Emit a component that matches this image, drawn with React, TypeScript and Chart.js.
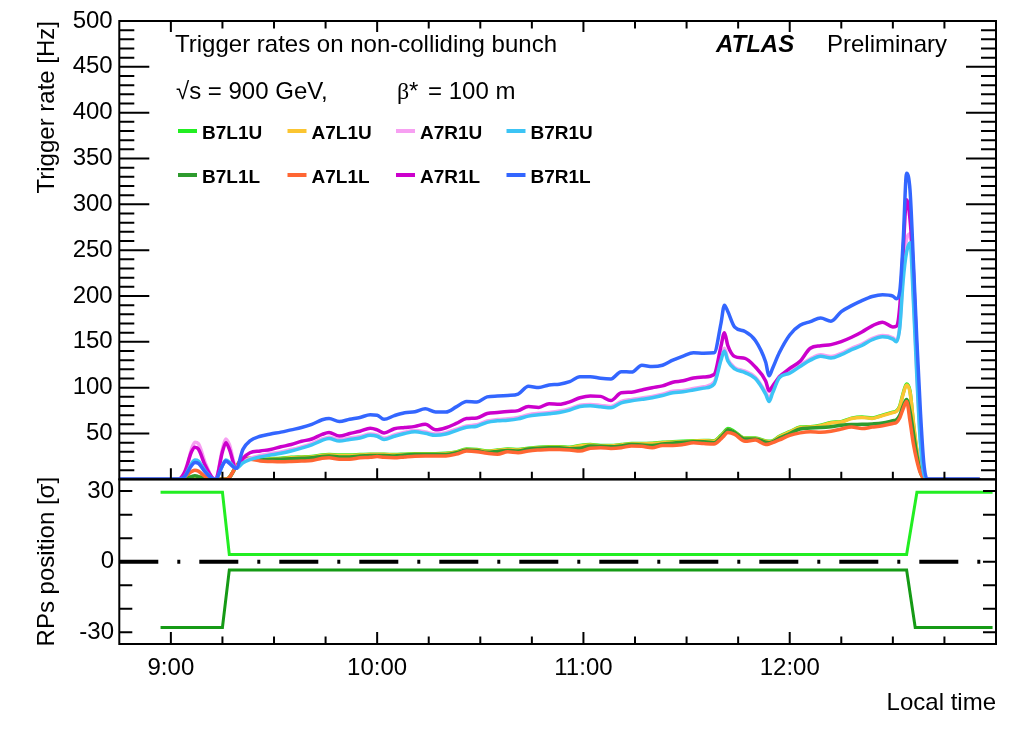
import React, { useEffect, useRef } from 'react';
import { Chart, registerables } from 'chart.js';

Chart.register(...registerables);

// Time in minutes after 09:00 local time
const TIME_MIN = [
  -15, -6, -2, 0, 2, 4, 6, 7, 8, 10,
  12, 13, 15, 16, 17, 19, 21, 23, 26, 29,
  32, 35, 38, 41, 44, 46, 49, 52, 55, 58,
  60, 62, 65, 68, 71, 74, 77, 80, 83, 86,
  89, 92, 95, 98, 101, 104, 107, 110, 113, 116,
  119, 122, 125, 128, 131, 134, 137, 140, 143, 146,
  149, 152, 155, 158, 160, 161, 162, 164, 167, 170,
  173, 174, 175, 177, 180, 183, 186, 189, 192, 195,
  198, 201, 204, 207, 210, 211, 212, 213, 214, 215,
  216, 217, 218, 219, 220, 225, 235,
];

// Trigger rates [Hz]
const RATE_B7L1U = [
  0, 0, 0, 0, 0, 0.5, 1.5, 2.5, 2, 0.5,
  0, 0, 0, 0, 2, 14, 22, 23, 22, 22.5,
  23, 24, 24.5, 25, 26.5, 27, 26.5, 26.5, 27, 27.5,
  27.5, 27.5, 27, 27.5, 28, 28, 28, 28.5, 30, 33,
  32.5, 31, 32, 33, 32.5, 34, 35, 35.5, 35.5, 35,
  37, 38, 37, 37, 38, 39, 39, 39.5, 40.5, 41,
  41.5, 42, 42.5, 42, 48, 52, 55.5, 52, 45, 45,
  42, 41.5, 42, 47, 52, 57, 57.5, 59, 62, 63,
  66.8, 68.1, 67, 70, 73.3, 74.5, 80, 94, 104, 96,
  60, 30, 9, 1, 0, 0, 0,
];
const RATE_A7L1U = [
  0, 0, 0, 0, 0, 1, 2.5, 3.5, 3, 1,
  0, 0, 0, 0, 2.5, 14, 22.5, 23, 22, 22,
  22.5, 23.5, 24, 24.5, 26, 26.5, 26, 26, 26.5, 27,
  27, 27, 26.5, 27, 27.5, 27.5, 27.5, 28, 29.5, 32.5,
  32, 30.5, 31.5, 32.5, 32, 33.5, 34.5, 35, 35, 34.5,
  36.5, 37.5, 36.5, 36.5, 37.5, 38.5, 38.5, 39, 40, 40.5,
  41, 41.5, 42, 41.5, 47, 51, 54.5, 51, 44.5, 44.5,
  41.5, 41, 41.5, 46.5, 51.5, 56.5, 57, 58.5, 61.5, 62.5,
  66.3, 67.6, 66.5, 69.5, 72.8, 74, 79, 93, 103, 95,
  62, 32, 10, 1, 0, 0, 0,
];
const RATE_A7R1U = [
  0, 0, 0, 0, 0, 4, 33, 40.5, 39, 18,
  2, 0, 33, 44, 38, 13, 19, 23, 26, 28,
  30, 32.5, 35.5, 39, 44, 46, 43.2, 45, 46.7, 49.5,
  48.5, 45, 48.5, 51.5, 53.2, 51.7, 49.5, 51, 54.7, 58.3,
  59.5, 63.7, 65.3, 66, 67.5, 70.5, 72, 73, 74.5, 77,
  81, 81.7, 80.7, 79.5, 85, 87.2, 88.8, 90.5, 93, 96,
  97, 99, 101, 106, 132, 143, 131, 122, 118, 111.5,
  95, 88, 96, 112.5, 117.3, 124.7, 131.5, 135.8, 134, 137.5,
  143, 147.5, 153.8, 157, 154.5, 151.5, 167, 225, 262, 268,
  200, 115, 42, 7, 0, 0, 0,
];
const RATE_B7R1U = [
  0, 0, 0, 0, 0, 3, 17, 21, 20, 9,
  1, 0, 15, 21, 19, 12, 18, 21.5, 24.5, 26.5,
  28.5, 31, 34, 37.5, 42.5, 44.5, 41.7, 43.5, 45.2, 48,
  47, 43.5, 47, 50, 51.8, 50.2, 48, 49.5, 53.2, 56.8,
  58, 62.2, 63.8, 64.5, 66, 69, 70.5, 71.6, 73, 75.5,
  79.5, 80.2, 79.2, 78, 83.5, 85.7, 87.3, 89, 91.5, 94.5,
  95.5, 97.5, 99.5, 104, 130, 140, 129, 120.5, 116.5, 110,
  93, 85, 94, 111, 115.8, 123.2, 130, 134.3, 132.4, 136,
  141.5, 146, 152.3, 155.5, 153, 150, 165, 217, 248, 258,
  192, 110, 40, 6, 0, 0, 0,
];
const RATE_B7L1L = [
  0, 0, 0, 0, 0, 1, 3, 4, 3, 1,
  0, 0, 0, 0, 2, 14, 22, 22.5, 21.5, 21.5,
  22, 22.5, 23, 23.5, 25, 25.5, 24.5, 24.5, 25.5, 26,
  26, 26, 25.5, 26.5, 27, 27, 27, 27, 29, 32,
  31.5, 29.5, 30.5, 31.5, 31, 33, 34, 34.5, 34.5, 33.5,
  34, 36.5, 36, 35.5, 36.5, 38, 37.5, 37, 38.5, 39.5,
  40.5, 41, 41, 40, 46, 50, 54, 51, 44, 44,
  40.5, 40, 41, 45, 50, 55, 56, 56.5, 57.5, 59,
  59.8, 60, 60.5, 61.5, 64, 65, 70, 80, 87, 74,
  50, 26, 8, 1, 0, 0, 0,
];
const RATE_A7L1L = [
  0, 0, 0, 0, 0, 3, 8.5, 10, 9, 3,
  0, 0, 0, 0, 2, 14, 22, 22, 20, 19.5,
  19.2, 19.5, 20, 20.5, 23, 23.5, 22, 22, 23.5, 24,
  25, 24, 23.5, 24.5, 25.3, 25.4, 25.4, 25.4, 27.5, 30.8,
  30.2, 28.5, 27.5, 30, 29, 31, 32, 32.6, 32.6, 32,
  30.8, 34, 34.5, 33.7, 34.5, 36.5, 36, 34.5, 37, 37,
  38, 39.8, 39, 38.5, 44, 48, 51, 49, 41.6, 42.8,
  38, 38.5, 40, 43, 48, 50.7, 52, 51.3, 52.5, 55,
  57, 55.5, 57, 58.5, 61, 62, 67, 77, 85, 63,
  38, 20, 7, 1, 0, 0, 0,
];
const RATE_A7R1L = [
  0, 0, 0, 0, 0, 8, 30, 35, 33, 15,
  2, 0, 30, 40, 33, 12, 23, 29, 31, 32.6,
  35.5, 38, 41.5, 44, 49, 51, 47.3, 50, 52.5, 55.8,
  54, 50.5, 55.2, 56.5, 57.8, 60.2, 54, 56.3, 61, 66.3,
  67, 71.8, 73, 74, 75, 79.5, 78.5, 82.5, 81.8, 84.5,
  89, 91, 90.5, 86, 94.5, 95.1, 97.5, 100, 102, 106,
  107.5, 110.6, 111.7, 114.4, 145, 160, 146, 134, 132, 122.5,
  107.4, 96.5, 101.6, 111.7, 121, 128.8, 143, 145.7, 147, 150.3,
  155, 160.7, 167.5, 171.5, 166.3, 167, 188, 250, 305, 283,
  225, 135, 55, 6, 0, 0, 0,
];
const RATE_B7R1L = [
  0, 0, 0, 0, 0, 3, 15, 18.5, 17.5, 8,
  1, 0, 15, 20, 17.5, 12, 33, 42, 47, 49.5,
  51.5, 54, 56.5, 60, 65, 66.5, 63, 65.5, 67.5, 70.5,
  70, 65.5, 69.5, 72.6, 73.8, 77, 73.5, 73.5, 79, 85,
  84.5, 90, 90.8, 91.5, 93, 101.5, 100.2, 103, 103.8, 106.5,
  112, 112, 110.3, 109.6, 117.5, 117, 124.5, 123, 124.5, 130,
  134.5, 138, 137.5, 138, 170, 190, 183, 166, 161.3, 151.5,
  128, 113, 121, 138.3, 157.5, 168, 172, 176, 172.5, 183,
  189.5, 195, 199.5, 201.5, 200, 197, 205, 260, 334, 315,
  235, 150, 75, 18, 0, 0, 0,
];

const SERIES_LABELS = ['B7L1U', 'A7L1U', 'A7R1U', 'B7R1U', 'B7L1L', 'A7L1L', 'A7R1L', 'B7R1L'];
const SERIES_VALUES = [RATE_B7L1U, RATE_A7L1U, RATE_A7R1U, RATE_B7R1U, RATE_B7L1L, RATE_A7L1L, RATE_A7R1L, RATE_B7R1L];
const SERIES_COLORS = ['#22ee22', '#fbc531', '#f7a0f2', '#3cc4f5', '#2e9b2e', '#ff6633', '#cc00cc', '#3366ff'];
// lower value = drawn on top
const SERIES_ORDER = [7, 6, 3, 1, 5, 4, 2, 0];

// Roman Pot positions [sigma]
const POS_UPPER_TIME = [-3, 15, 17, 214, 217, 239];
const POS_UPPER = [29.5, 29.5, 3, 3, 29.5, 29.5];
const POS_LOWER_TIME = [-3, 15, 17, 214, 216.5, 239];
const POS_LOWER = [-28, -28, -3.5, -3.5, -28, -28];
const BEAM_AXIS_TIME = [-15, 240];
const BEAM_AXIS = [0, 0];

// Axes
const TIME_AXIS_MIN = -15;
const TIME_AXIS_MAX = 240;
const TIME_MINOR_STEP = 15;
const X_TICK_VALUES = [0, 60, 120, 180];
const X_TICK_LABELS = ['9:00', '10:00', '11:00', '12:00'];
const RATE_MIN = 0;
const RATE_MAX = 500;
const RATE_TICK_VALUES = [50, 100, 150, 200, 250, 300, 350, 400, 450, 500];
const RATE_MAJOR_STEP = 50;
const RATE_MINOR_STEP = 10;
const POS_MIN = -35;
const POS_MAX = 35;
const POS_TICK_VALUES = [-30, 0, 30];
const POS_MINOR_STEP = 10;

const FONT_FAMILY = "'Liberation Sans', Arial, Helvetica, sans-serif";
const SERIF_FAMILY = "'Liberation Serif', 'DejaVu Serif', serif";

function toPoints(times: number[], values: number[]) {
  return times.map((t, i) => ({ x: t, y: values[i] }));
}

const decorPlugin = {
  id: 'atlasDecor',
  afterDraw(chart: any) {
    const ctx = chart.ctx;
    const xs = chart.scales.x;
    const yr = chart.scales.yRate;
    const yp = chart.scales.yPos;
    const left = xs.left;
    const right = xs.right;

    ctx.save();
    ctx.strokeStyle = '#000';
    ctx.lineWidth = 2;
    ctx.lineCap = 'butt';
    ctx.setLineDash([]);

    // panel frames
    ctx.strokeRect(left, yr.top, right - left, yr.bottom - yr.top);
    ctx.strokeRect(left, yp.top, right - left, yp.bottom - yp.top);

    ctx.beginPath();
    // rate axis ticks, mirrored on the right
    for (let v = RATE_MIN + RATE_MINOR_STEP; v < RATE_MAX; v += RATE_MINOR_STEP) {
      const len = v % RATE_MAJOR_STEP === 0 ? 30 : 15;
      const py = yr.getPixelForValue(v);
      ctx.moveTo(left, py); ctx.lineTo(left + len, py);
      ctx.moveTo(right, py); ctx.lineTo(right - len, py);
    }
    // position axis ticks, mirrored on the right
    for (let v = Math.ceil(POS_MIN / POS_MINOR_STEP) * POS_MINOR_STEP; v <= POS_MAX; v += POS_MINOR_STEP) {
      const py = yp.getPixelForValue(v);
      ctx.moveTo(left, py); ctx.lineTo(left + 13, py);
      ctx.moveTo(right, py); ctx.lineTo(right - 13, py);
    }
    // time ticks on both edges of the upper panel and the bottom of the lower one
    for (let t = TIME_AXIS_MIN + TIME_MINOR_STEP; t < TIME_AXIS_MAX; t += TIME_MINOR_STEP) {
      const major = t % 60 === 0;
      const px = xs.getPixelForValue(t);
      const a = major ? 11 : 7.5;
      ctx.moveTo(px, yr.top); ctx.lineTo(px, yr.top + a);
      ctx.moveTo(px, yr.bottom); ctx.lineTo(px, yr.bottom - a);
      const b = major ? 12 : 7.5;
      ctx.moveTo(px, yp.bottom); ctx.lineTo(px, yp.bottom - b);
    }
    ctx.stroke();

    // header texts
    ctx.fillStyle = '#000';
    ctx.textBaseline = 'alphabetic';
    ctx.textAlign = 'left';
    ctx.font = `24px ${FONT_FAMILY}`;
    ctx.fillText('Trigger rates on non-colliding bunch', 175, 52);
    ctx.fillText('Preliminary', 827, 52);
    ctx.font = `italic bold 24px ${FONT_FAMILY}`;
    ctx.fillText('ATLAS', 716, 52);
    ctx.font = `24px ${FONT_FAMILY}`;
    ctx.fillText('\u221As = 900 GeV,', 176, 99);
    ctx.font = `24px ${SERIF_FAMILY}`;
    ctx.fillText('\u03B2', 397, 99);
    ctx.font = `24px ${FONT_FAMILY}`;
    ctx.fillText('*', 409, 99);
    ctx.fillText('= 100 m', 428, 99);

    // legend: two rows of four
    const colX = [178, 287.5, 396, 506.5];
    const rowLine = [131, 175];
    const rowText = [139, 182.5];
    ctx.font = `bold 19px ${FONT_FAMILY}`;
    chart.data.datasets.forEach((ds: any, i: number) => {
      if (!ds.inLegend) return;
      const col = i % 4;
      const row = Math.floor(i / 4);
      ctx.strokeStyle = ds.borderColor;
      ctx.lineWidth = 4;
      ctx.beginPath();
      ctx.moveTo(colX[col], rowLine[row]);
      ctx.lineTo(colX[col] + 19, rowLine[row]);
      ctx.stroke();
      ctx.fillStyle = '#000';
      ctx.fillText(ds.label, colX[col] + 24, rowText[row]);
    });

    ctx.restore();
  },
};

export default function App() {
  const canvasRef = useRef<HTMLCanvasElement | null>(null);

  useEffect(() => {
    const canvas = canvasRef.current;
    if (!canvas) return;

    const rateSets = SERIES_LABELS.map((label, i) => ({
      label,
      inLegend: true,
      data: toPoints(TIME_MIN, SERIES_VALUES[i]),
      yAxisID: 'yRate',
      borderColor: SERIES_COLORS[i],
      backgroundColor: SERIES_COLORS[i],
      borderWidth: 3.5,
      pointRadius: 0,
      cubicInterpolationMode: 'monotone',
      borderJoinStyle: 'round',
      borderCapStyle: 'round',
      order: SERIES_ORDER[i] + 3,
    }));

    const posSets = [
      {
        label: 'upper pots',
        data: toPoints(POS_UPPER_TIME, POS_UPPER),
        yAxisID: 'yPos',
        borderColor: '#22ee22',
        borderWidth: 3,
        pointRadius: 0,
        tension: 0,
        order: 1,
      },
      {
        label: 'lower pots',
        data: toPoints(POS_LOWER_TIME, POS_LOWER),
        yAxisID: 'yPos',
        borderColor: '#159a15',
        borderWidth: 3,
        pointRadius: 0,
        tension: 0,
        order: 2,
      },
      {
        label: 'beam',
        data: toPoints(BEAM_AXIS_TIME, BEAM_AXIS),
        yAxisID: 'yPos',
        borderColor: '#000',
        borderWidth: 4,
        borderDash: [39, 19, 3, 19],
        pointRadius: 0,
        tension: 0,
        order: 0,
      },
    ];

    const tickFont = { family: FONT_FAMILY, size: 24 };

    const chart = new Chart(canvas, {
      type: 'line',
      data: { datasets: [...rateSets, ...posSets] as any },
      options: {
        animation: false,
        responsive: false,
        devicePixelRatio: 1,
        events: [],
        layout: { padding: { top: 17.4, right: 37, left: 0, bottom: 0 } },
        plugins: {
          legend: { display: false },
          tooltip: { enabled: false },
        },
        scales: {
          x: {
            type: 'linear',
            position: 'bottom',
            min: TIME_AXIS_MIN,
            max: TIME_AXIS_MAX,
            grid: { display: false, drawTicks: false },
            border: { display: false },
            afterBuildTicks: (s: any) => {
              s.ticks = X_TICK_VALUES.map((v) => ({ value: v }));
            },
            afterFit: (s: any) => {
              s.height = 91;
            },
            ticks: {
              autoSkip: false,
              maxRotation: 0,
              padding: 10,
              color: '#000',
              font: tickFont,
              callback: (_v: any, i: number) => X_TICK_LABELS[i],
            },
            title: {
              display: true,
              text: 'Local time',
              align: 'end',
              color: '#000',
              font: tickFont,
              padding: { top: 0, bottom: 17.2 },
            },
          },
          yPos: {
            type: 'linear',
            position: 'left',
            stack: 'panels',
            stackWeight: 165.6,
            min: POS_MIN,
            max: POS_MAX,
            grid: { display: false, drawTicks: false },
            border: { display: false },
            afterBuildTicks: (s: any) => {
              s.ticks = POS_TICK_VALUES.map((v) => ({ value: v }));
            },
            afterFit: (s: any) => {
              s.width = 119.3;
            },
            ticks: { autoSkip: false, padding: 5.3, color: '#000', font: tickFont },
            title: {
              display: true,
              text: 'RPs position [\u03C3]',
              align: 'center',
              color: '#000',
              font: tickFont,
              padding: { top: 32.6, bottom: 0 },
            },
          },
          yRate: {
            type: 'linear',
            position: 'left',
            stack: 'panels',
            stackWeight: 461,
            min: RATE_MIN,
            max: RATE_MAX,
            grid: { display: false, drawTicks: false },
            border: { display: false },
            afterBuildTicks: (s: any) => {
              s.ticks = RATE_TICK_VALUES.map((v) => ({ value: v }));
            },
            afterFit: (s: any) => {
              s.width = 119.3;
            },
            ticks: { autoSkip: false, padding: 6.6, color: '#000', font: tickFont },
            title: {
              display: true,
              text: 'Trigger rate [Hz]',
              align: 'end',
              color: '#000',
              font: tickFont,
              padding: { top: 32.6, bottom: 0 },
            },
          },
        },
      } as any,
      plugins: [decorPlugin],
    });

    return () => {
      chart.destroy();
    };
  }, []);

  return (
    <div style={{ position: 'fixed', left: 0, top: 0, width: 1033, height: 735, background: '#fff' }}>
      <canvas ref={canvasRef} width={1033} height={735} style={{ display: 'block' }} />
    </div>
  );
}
